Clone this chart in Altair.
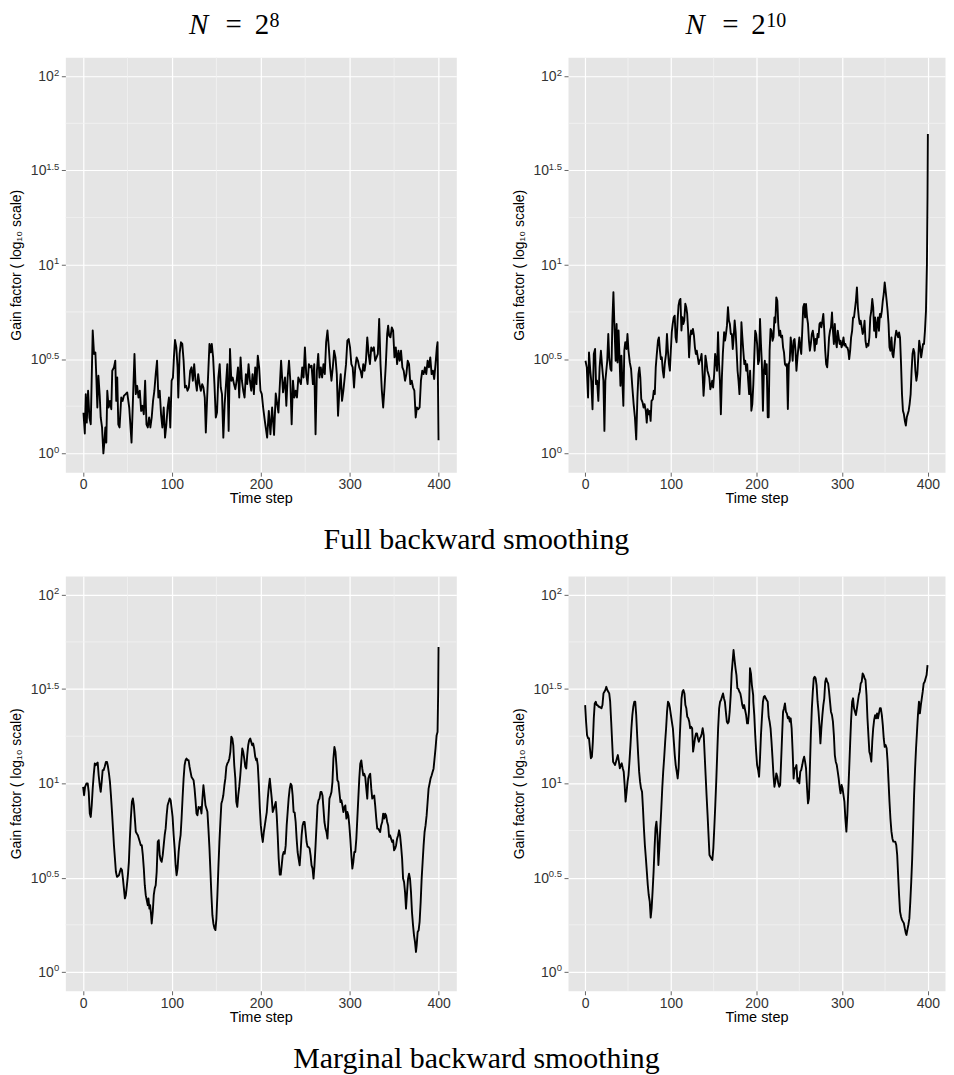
import altair as alt
import pandas as pd

# ---------------- data (log10 of gain factor vs time step) ----------------
tl_pts = [
    (0.4, .216), (1.9, .105), (3.0, .314), (4.1, .163), (5.6, .332), (7.1, .19), (8.6, .154), (10.8, .651),
    (12.3, .527), (13.8, .535), (14.9, .402), (16.0, .243), (17.2, .411), (18.7, .305), (19.8, .19), (21.3, .137),
    (22.8, 0.0), (23.9, .057), (25.0, .137), (26.1, .057), (27.2, .332), (28.7, .243), (30.2, .278), (31.7, .234),
    (32.8, .438), (34.7, .456), (36.2, .491), (37.3, .278), (38.4, .402), (39.6, .154), (41.0, .137), (42.9, .296),
    (44.4, .278), (45.9, .305), (47.8, .314), (49.6, .323), (51.9, .243), (54.5, .057), (56.3, .314), (57.8, .527),
    (59.3, .314), (60.8, .358), (62.3, .296), (63.8, .332), (65.3, .225), (66.8, .252), (68.3, .207), (69.8, .385),
    (71.3, .154), (72.8, .137), (74.3, .19), (75.7, .137), (77.2, .19), (78.7, .278), (80.2, .332), (81.7, .42),
    (83.2, .491), (84.7, .296), (86.2, .332), (87.7, .207), (89.2, .137), (90.7, .243), (92.2, .083), (93.7, .154),
    (95.1, .243), (96.6, .296), (98.1, .137), (99.6, .385), (101.1, .402), (102.2, .509), (103.4, .601), (104.9, .562),
    (106.3, .456), (107.1, .296), (108.6, .527), (110.1, .589), (111.6, .58), (113.1, .491), (114.6, .349), (116.0, .358),
    (117.5, .332), (119.0, .349), (120.5, .438), (122.0, .456), (123.5, .385), (125.0, .473), (126.5, .385), (128.0, .332),
    (129.5, .42), (131.0, .367), (132.5, .332), (134.0, .367), (135.4, .349), (136.9, .296), (138.1, .11), (139.6, .296),
    (141.0, .447), (142.2, .58), (143.7, .535), (144.8, .58), (146.3, .509), (147.8, .367), (149.3, .19), (150.7, .216),
    (152.2, .402), (153.7, .473), (154.9, .349), (156.3, .314), (157.8, .083), (159.3, .261), (160.8, .367), (162.3, .473),
    (163.8, .119), (165.3, .553), (166.8, .385), (168.3, .402), (169.8, .367), (171.3, .34), (172.8, .385), (174.3, .456),
    (175.7, .296), (177.2, .509), (178.7, .385), (180.2, .332), (181.7, .296), (183.2, .42), (184.7, .367), (186.2, .473),
    (187.7, .385), (189.2, .332), (190.7, .42), (192.2, .314), (193.7, .456), (195.1, .367), (196.6, .518), (198.1, .456),
    (199.6, .332), (201.1, .314), (202.6, .243), (204.5, .172), (207.1, .083), (209.0, .225), (210.8, .101), (212.7, .243),
    (214.9, .098), (216.8, .317), (219.8, .216), (222.8, .491), (225.0, .323), (227.2, .402), (228.7, .252), (230.2, .402),
    (231.7, .491), (233.2, .385), (234.7, .154), (236.2, .385), (237.7, .296), (239.2, .332), (240.7, .296), (242.2, .402),
    (243.7, .385), (245.1, .367), (246.6, .456), (248.1, .402), (249.6, .562), (251.1, .42), (252.6, .367), (254.1, .473),
    (255.6, .456), (257.1, .465), (258.6, .367), (260.1, .473), (261.6, .101), (263.1, .438), (264.6, .527), (266.0, .402),
    (267.5, .456), (269.0, .402), (270.5, .473), (272.0, .42), (273.5, .589), (275.0, .651), (276.5, .562), (278.0, .456),
    (279.5, .385), (281.0, .456), (282.5, .544), (284.0, .509), (285.5, .42), (286.9, .199), (288.4, .332), (289.9, .42),
    (291.4, .278), (292.9, .332), (294.4, .402), (295.9, .473), (297.4, .598), (298.9, .606), (300.4, .562), (301.9, .473),
    (303.4, .456), (304.9, .349), (306.3, .456), (307.8, .509), (309.3, .491), (310.8, .456), (312.3, .438), (313.8, .402),
    (315.3, .473), (316.8, .438), (318.3, .491), (319.8, .615), (321.3, .527), (322.8, .473), (324.3, .562), (325.7, .544),
    (327.2, .562), (328.7, .491), (330.2, .509), (331.7, .527), (333.2, .713), (334.7, .473), (336.2, .332), (337.7, .243),
    (339.2, .349), (340.7, .473), (342.2, .633), (343.3, .677), (344.4, .624), (345.9, .615), (347.4, .668), (348.9, .651),
    (350.4, .509), (351.9, .562), (353.4, .473), (354.9, .544), (356.3, .491), (357.8, .544), (359.3, .456), (360.8, .438),
    (362.3, .385), (363.8, .42), (365.3, .491), (366.8, .473), (368.3, .367), (369.8, .385), (371.3, .349), (372.8, .332),
    (374.3, .19), (375.7, .243), (377.2, .234), (378.7, .243), (380.2, .385), (381.7, .438), (383.2, .42), (384.7, .456),
    (386.2, .42), (387.7, .491), (389.2, .456), (390.7, .509), (392.2, .42), (393.7, .438), (395.1, .394), (396.6, .473),
    (398.1, .562), (398.9, .589), (400.0, .069),
]

tr_pts = [
    (0.4, .491), (1.9, .456), (3.4, .296), (4.5, .535), (6.0, .438), (7.1, .385), (8.6, .234), (10.1, .527),
    (11.6, .553), (12.7, .367), (13.9, .385), (15.4, .278), (16.9, .456), (18.4, .544), (19.9, .456), (21.3, .385),
    (22.5, .119), (23.6, .385), (24.7, .438), (25.8, .491), (27.0, .633), (28.1, .509), (29.6, .447), (30.7, .438),
    (31.8, .704), (33.0, .855), (34.1, .686), (35.6, .491), (36.7, .686), (37.8, .482), (39.0, .651), (40.1, .509),
    (41.2, .358), (42.3, .518), (43.4, .385), (44.6, .252), (45.7, .544), (46.8, .589), (48.3, .553), (49.4, .633),
    (50.6, .544), (52.1, .482), (53.6, .447), (55.1, .349), (56.6, .261), (58.1, .19), (59.6, .074), (61.0, .296),
    (62.2, .42), (63.3, .456), (64.4, .402), (65.5, .287), (67.0, .27), (68.2, .243), (69.3, .261), (70.8, .225),
    (71.9, .163), (73.0, .234), (74.2, .207), (75.3, .225), (76.4, .172), (77.5, .278), (79.0, .287), (80.1, .332),
    (81.3, .314), (82.4, .456), (83.5, .518), (85.0, .598), (86.1, .615), (87.3, .544), (88.4, .5), (89.5, .509),
    (90.6, .438), (91.8, .402), (92.9, .473), (94.4, .527), (95.5, .633), (96.6, .544), (97.8, .473), (98.9, .438),
    (100.0, .544), (101.1, .642), (102.2, .686), (103.4, .722), (104.5, .73), (105.6, .615), (106.7, .589), (107.9, .704),
    (109.0, .784), (110.1, .81), (111.2, .819), (112.4, .651), (113.5, .722), (114.6, .686), (115.7, .704), (116.9, .793),
    (118.0, .775), (119.1, .739), (120.2, .651), (121.3, .509), (122.5, .615), (123.6, .651), (124.7, .633), (125.8, .66),
    (127.0, .624), (128.1, .562), (129.2, .527), (130.3, .544), (131.5, .509), (132.6, .473), (133.7, .491), (134.8, .5),
    (135.9, .527), (137.1, .42), (138.2, .305), (139.3, .385), (140.4, .518), (141.6, .482), (142.7, .438), (143.8, .42),
    (144.9, .402), (146.1, .34), (147.2, .358), (148.3, .385), (149.4, .349), (150.6, .42), (151.7, .527), (152.8, .491),
    (153.9, .438), (155.1, .642), (156.2, .482), (157.3, .385), (158.4, .207), (159.6, .402), (160.7, .527), (162.2, .642),
    (163.3, .598), (164.4, .633), (165.5, .677), (166.7, .775), (167.8, .704), (168.9, .686), (170.0, .633), (171.2, .633),
    (172.3, .553), (173.4, .615), (174.5, .704), (175.7, .642), (176.8, .544), (177.9, .438), (179.0, .385), (180.1, .314),
    (181.3, .438), (182.4, .695), (183.5, .615), (184.6, .544), (185.8, .473), (186.9, .491), (188.0, .438), (189.1, .473),
    (190.3, .385), (191.4, .314), (192.5, .438), (193.6, .296), (194.0, .226), (195.1, .261), (196.3, .367), (197.4, .509),
    (198.5, .65), (199.6, .633), (200.7, .58), (201.9, .473), (203.0, .491), (204.1, .712), (205.2, .58), (206.3, .473),
    (207.5, .226), (208.6, .438), (209.7, .491), (210.8, .42), (211.9, .473), (213.1, .191), (214.2, .191), (215.3, .544),
    (216.4, .659), (217.5, .65), (218.7, .597), (219.8, .615), (220.9, .721), (222.0, .694), (223.1, .827), (224.3, .809),
    (225.4, .686), (226.5, .624), (227.6, .65), (228.7, .615), (229.9, .624), (231.0, .562), (232.1, .535), (233.2, .473),
    (234.3, .465), (235.4, .473), (236.6, .235), (237.7, .473), (238.8, .491), (239.9, .615), (241.0, .562), (242.2, .491),
    (243.3, .597), (244.4, .606), (245.5, .544), (246.6, .438), (247.8, .509), (248.9, .562), (250.0, .615), (251.1, .562),
    (252.2, .527), (253.4, .65), (254.5, .774), (255.6, .792), (256.7, .721), (257.8, .792), (259.0, .721), (260.1, .686),
    (261.2, .597), (262.3, .544), (263.4, .58), (264.6, .633), (265.7, .65), (266.8, .615), (267.9, .544), (269.0, .606),
    (270.1, .58), (271.3, .633), (272.4, .615), (273.5, .686), (274.6, .694), (275.7, .668), (276.9, .703), (278.0, .739),
    (279.1, .65), (280.2, .544), (281.3, .473), (282.5, .456), (283.6, .527), (284.7, .615), (285.8, .65), (286.9, .668),
    (288.1, .747), (289.2, .65), (290.3, .58), (291.4, .686), (292.5, .597), (293.7, .562), (294.8, .65), (295.9, .615),
    (297.0, .58), (298.1, .597), (299.3, .562), (300.4, .58), (301.5, .615), (302.6, .571), (303.7, .58), (304.9, .562),
    (306.0, .562), (307.1, .544), (308.2, .5), (309.3, .544), (310.4, .615), (311.6, .65), (312.7, .721), (313.8, .721),
    (314.9, .765), (316.0, .809), (317.2, .88), (318.3, .774), (319.4, .721), (320.5, .686), (321.6, .703), (322.8, .668),
    (323.9, .633), (325.0, .65), (326.1, .703), (327.2, .597), (328.4, .562), (329.5, .58), (330.6, .571), (331.7, .615),
    (332.8, .721), (334.0, .756), (335.1, .818), (336.2, .774), (337.3, .65), (338.4, .721), (339.6, .615), (340.7, .686),
    (341.8, .721), (342.9, .65), (344.0, .739), (345.1, .721), (346.3, .756), (347.4, .809), (348.5, .845), (349.6, .906),
    (350.7, .862), (351.9, .809), (353.0, .756), (354.1, .686), (355.2, .562), (356.3, .544), (357.5, .615), (358.6, .527),
    (359.7, .509), (360.8, .562), (361.9, .615), (363.1, .65), (364.2, .633), (365.3, .615), (366.4, .641), (367.5, .615),
    (368.7, .473), (369.8, .314), (370.9, .226), (372.0, .208), (373.1, .173), (374.3, .147), (375.4, .191), (376.5, .208),
    (377.6, .226), (378.7, .261), (379.9, .314), (381.0, .438), (382.1, .527), (383.2, .553), (384.3, .535), (385.4, .438),
    (386.6, .385), (387.7, .42), (388.8, .509), (389.9, .597), (391.0, .562), (392.2, .509), (393.3, .544), (394.4, .58),
    (395.5, .58), (396.6, .65), (397.8, .756), (398.9, 1.004), (399.6, 1.357), (400.0, 1.693),
]

bl_pts = [
    (0.0, .981), (1.1, .937), (2.2, .981), (3.7, .999), (5.2, .999), (6.3, .955), (7.5, .84), (8.6, .822),
    (9.7, .884), (10.8, .973), (11.9, 1.043), (13.1, 1.105), (14.2, 1.096), (15.3, 1.105), (16.4, 1.11), (17.5, 1.043),
    (18.7, .99), (19.8, .955), (20.9, 1.008), (22.0, 1.07), (23.1, 1.07), (24.3, 1.088), (25.7, 1.114), (26.9, 1.114),
    (28.0, 1.088), (29.1, 1.052), (30.2, 1.008), (31.3, .937), (32.5, .849), (33.6, .761), (34.7, .672), (35.8, .602),
    (36.9, .531), (38.1, .504), (39.2, .508), (40.3, .513), (41.4, .531), (42.5, .549), (43.7, .54), (44.8, .495),
    (45.9, .443), (47.0, .39), (48.1, .407), (49.3, .46), (50.4, .513), (51.5, .584), (52.6, .708), (53.7, .814),
    (54.9, .902), (56.0, .92), (57.1, .884), (58.2, .814), (59.3, .743), (60.4, .734), (61.6, .725), (62.7, .708),
    (63.8, .69), (64.9, .672), (66.0, .672), (67.2, .619), (68.3, .549), (69.4, .46), (70.5, .407), (71.6, .381),
    (72.8, .354), (73.5, .39), (74.6, .336), (75.4, .354), (76.5, .301), (77.2, .257), (78.4, .319), (79.5, .407),
    (80.6, .443), (81.7, .46), (82.8, .531), (84.0, .69), (85.1, .699), (86.2, .619), (87.3, .593), (88.4, .584),
    (89.6, .619), (90.7, .672), (91.8, .725), (92.9, .761), (94.0, .831), (95.1, .884), (96.3, .902), (97.4, .92),
    (98.5, .911), (99.6, .867), (100.7, .822), (101.9, .725), (103.0, .655), (104.1, .566), (105.2, .513), (106.3, .549),
    (107.5, .637), (108.6, .69), (109.7, .725), (110.8, .814), (111.9, .92), (113.1, 1.026), (114.2, 1.096), (115.3, 1.123),
    (116.4, 1.132), (117.5, 1.123), (118.7, 1.123), (119.8, 1.088), (120.9, 1.061), (122.0, 1.034), (123.1, 1.026), (124.3, 1.017),
    (125.4, .973), (126.5, .911), (127.6, .84), (128.7, .831), (129.9, .875), (131.0, .867), (132.1, .875), (133.2, .84),
    (134.3, .92), (135.4, .99), (136.6, .937), (137.7, .884), (138.8, .867), (139.9, .849), (141.0, .761), (142.2, .655),
    (143.3, .531), (144.4, .407), (145.5, .301), (146.6, .257), (147.8, .231), (148.9, .222), (150.0, .283), (151.1, .407),
    (152.2, .549), (153.4, .69), (154.5, .796), (155.6, .893), (156.7, .911), (157.8, .937), (159.0, .99), (160.1, 1.026),
    (161.2, 1.088), (162.3, 1.105), (163.4, 1.114), (164.6, 1.132), (165.7, 1.167), (166.8, 1.247), (167.9, 1.238), (169.0, 1.202),
    (170.1, 1.096), (171.3, 1.026), (172.4, .902), (173.5, .875), (174.6, .937), (175.7, .981), (176.9, 1.043), (178.0, 1.114),
    (179.1, 1.185), (180.2, 1.167), (181.3, 1.132), (182.5, 1.088), (183.6, 1.079), (184.7, 1.15), (185.8, 1.202), (186.9, 1.229),
    (188.1, 1.238), (189.2, 1.22), (190.3, 1.202), (191.4, 1.211), (192.5, 1.185), (193.7, 1.141), (194.8, 1.123), (195.5, 1.131),
    (196.6, 1.095), (197.8, .989), (198.9, .866), (200.0, .777), (201.1, .724), (202.2, .689), (203.4, .742), (204.5, .777),
    (205.6, .813), (206.7, .848), (207.8, .919), (209.0, .981), (210.1, 1.025), (211.2, .972), (212.3, .919), (213.4, .848),
    (214.6, .866), (215.7, .883), (216.8, .901), (217.9, .83), (219.0, .724), (220.1, .601), (221.3, .516), (222.4, .516),
    (223.5, .565), (224.6, .618), (225.7, .636), (226.9, .627), (228.0, .671), (229.1, .777), (230.2, .848), (231.3, .919),
    (232.5, .972), (233.6, .998), (234.7, .989), (235.8, .936), (236.9, .848), (238.1, .845), (239.2, .795), (240.3, .707),
    (241.4, .636), (242.5, .601), (243.7, .565), (244.8, .636), (245.9, .724), (247.0, .777), (248.1, .795), (249.3, .795),
    (250.4, .742), (251.5, .689), (252.6, .663), (253.7, .663), (254.9, .654), (256.0, .618), (257.1, .565), (258.2, .548),
    (259.3, .495), (260.4, .565), (261.6, .671), (262.7, .777), (263.8, .883), (264.9, .91), (266.0, .919), (267.2, .954),
    (268.3, .954), (269.4, .936), (270.5, .866), (271.6, .795), (272.8, .76), (273.9, .742), (275.0, .707), (276.1, .813),
    (277.2, .919), (278.4, .936), (279.5, .954), (280.6, 1.007), (281.7, 1.131), (282.8, 1.193), (284.0, 1.166), (285.1, 1.095),
    (286.2, 1.016), (287.3, 1.007), (288.4, .954), (289.6, .901), (290.7, .91), (291.8, .883), (292.9, .848), (294.0, .874),
    (295.1, .883), (296.3, .813), (297.4, .848), (298.5, .83), (299.6, .777), (300.7, .707), (301.9, .618), (303.0, .548),
    (304.1, .583), (305.2, .636), (306.3, .636), (307.5, .707), (308.6, .813), (309.7, .919), (310.8, 1.025), (311.9, 1.104),
    (313.1, 1.122), (314.2, 1.078), (315.3, 1.042), (316.4, 1.051), (317.5, 1.034), (318.7, .972), (319.8, .919), (320.9, 1.025),
    (322.0, 1.042), (323.1, 1.051), (324.3, .972), (325.4, .919), (326.5, .928), (327.6, .936), (328.7, .883), (329.9, .813),
    (331.0, .76), (332.1, .76), (333.2, .751), (334.3, .742), (335.4, .777), (336.6, .795), (337.7, .839), (338.8, .813),
    (339.9, .839), (341.0, .83), (342.2, .795), (343.3, .777), (344.4, .716), (345.5, .724), (346.6, .707), (347.8, .689),
    (348.9, .698), (350.0, .645), (351.1, .654), (352.2, .671), (353.4, .707), (354.5, .724), (355.6, .751), (356.7, .724),
    (357.8, .671), (359.0, .601), (360.1, .495), (361.2, .477), (362.3, .424), (363.4, .336), (364.6, .424), (365.7, .495),
    (366.8, .521), (367.9, .495), (369.0, .424), (370.1, .318), (371.3, .247), (372.4, .194), (373.5, .159), (374.6, .106),
    (375.4, .141), (376.5, .212), (377.6, .221), (378.7, .265), (379.9, .371), (381.0, .495), (382.1, .583), (383.2, .671),
    (384.3, .742), (385.4, .777), (386.6, .83), (387.7, .901), (388.8, .972), (389.9, .998), (391.0, 1.025), (392.2, 1.042),
    (393.3, 1.06), (394.4, 1.078), (395.5, 1.131), (396.6, 1.184), (397.8, 1.254), (398.9, 1.272), (399.6, 1.484), (400.0, 1.723),
]

br_pts = [
    (0.0, 1.415), (1.1, 1.327), (2.2, 1.256), (3.4, 1.239), (4.5, 1.239), (5.6, 1.186), (6.7, 1.133), (7.9, 1.141),
    (9.0, 1.221), (10.1, 1.345), (11.2, 1.424), (12.4, 1.433), (13.5, 1.415), (14.6, 1.415), (15.7, 1.406), (16.9, 1.406),
    (18.0, 1.401), (19.1, 1.398), (20.2, 1.415), (21.4, 1.477), (22.5, 1.486), (23.6, 1.495), (24.7, 1.512), (25.9, 1.495),
    (27.0, 1.486), (28.1, 1.477), (29.2, 1.433), (30.4, 1.327), (31.5, 1.221), (32.6, 1.115), (33.7, 1.106), (34.9, 1.097),
    (36.0, 1.115), (37.1, 1.133), (38.2, 1.15), (39.4, 1.115), (40.5, 1.08), (41.6, 1.097), (42.7, 1.106), (43.9, 1.08),
    (45.0, 1.062), (46.1, .991), (47.2, .903), (48.4, .956), (49.5, 1.009), (50.6, 1.044), (51.7, 1.115), (52.9, 1.203),
    (54.0, 1.292), (55.1, 1.362), (56.2, 1.406), (57.4, 1.433), (58.5, 1.433), (59.6, 1.362), (60.7, 1.256), (61.9, 1.15),
    (63.0, 1.062), (64.1, 1.009), (65.2, .974), (66.4, .956), (67.5, .867), (68.6, .761), (69.7, .673), (70.9, .602),
    (72.0, .532), (73.1, .461), (74.2, .408), (75.4, .373), (76.5, .288), (77.6, .337), (78.7, .426), (79.9, .532),
    (81.0, .655), (82.1, .761), (83.2, .797), (84.4, .726), (85.5, .567), (86.6, .655), (87.7, .761), (88.9, .867),
    (90.0, .974), (91.1, 1.062), (92.2, 1.133), (93.4, 1.221), (94.5, 1.292), (95.6, 1.38), (96.7, 1.433), (97.9, 1.424),
    (99.0, 1.398), (100.1, 1.362), (101.2, 1.327), (102.4, 1.292), (103.5, 1.221), (104.6, 1.15), (105.7, 1.097), (106.9, 1.062),
    (108.0, 1.026), (109.1, 1.08), (110.2, 1.221), (111.4, 1.345), (112.5, 1.451), (113.6, 1.486), (114.7, 1.495), (115.9, 1.477),
    (117.0, 1.415), (118.1, 1.398), (119.2, 1.353), (120.4, 1.345), (121.5, 1.327), (122.6, 1.292), (123.7, 1.3), (124.9, 1.292),
    (126.0, 1.168), (127.1, 1.203), (128.2, 1.239), (129.4, 1.265), (130.5, 1.265), (131.6, 1.239), (132.7, 1.221), (133.9, 1.239),
    (135.0, 1.247), (136.1, 1.265), (137.2, 1.292), (138.4, 1.256), (139.5, 1.15), (140.6, 1.044), (141.7, .938), (142.9, .832),
    (144.0, .726), (145.1, .62), (146.2, .611), (147.4, .602), (148.5, .594), (149.6, .655), (150.7, .761), (151.9, .885),
    (153.0, 1.009), (154.1, 1.15), (155.2, 1.292), (156.4, 1.398), (157.5, 1.433), (158.6, 1.442), (159.7, 1.459), (160.9, 1.477),
    (162.0, 1.451), (163.1, 1.433), (164.2, 1.38), (165.4, 1.327), (166.5, 1.318), (167.6, 1.327), (168.7, 1.38), (169.9, 1.468),
    (171.0, 1.583), (172.1, 1.645), (173.2, 1.707), (174.4, 1.654), (175.5, 1.61), (176.6, 1.574), (177.7, 1.504), (178.9, 1.5),
    (180.0, 1.486), (181.1, 1.477), (182.2, 1.451), (183.4, 1.415), (184.5, 1.398), (185.6, 1.415), (186.7, 1.389), (187.9, 1.362),
    (189.0, 1.318), (190.1, 1.318), (191.2, 1.38), (192.4, 1.61), (193.5, 1.583), (194.6, 1.521), (196.1, 1.468), (196.3, 1.433),
    (197.4, 1.362), (198.5, 1.256), (199.6, 1.168), (200.7, 1.097), (201.9, 1.071), (203.0, 1.035), (204.1, 1.133), (205.2, 1.256),
    (206.3, 1.345), (207.5, 1.433), (208.6, 1.459), (209.7, 1.463), (210.8, 1.451), (211.9, 1.442), (213.1, 1.433), (214.2, 1.353),
    (215.3, 1.327), (216.4, 1.292), (217.5, 1.221), (218.7, 1.133), (219.8, 1.044), (220.9, .982), (222.0, 1.009), (223.1, 1.053),
    (224.3, 1.035), (225.4, 1.0), (226.5, .982), (227.6, .991), (228.7, 1.115), (229.9, 1.256), (231.0, 1.38), (232.1, 1.398),
    (233.2, 1.424), (234.3, 1.38), (235.4, 1.371), (236.6, 1.345), (237.7, 1.353), (238.8, 1.327), (239.9, 1.345), (241.0, 1.292),
    (242.2, 1.168), (243.3, 1.026), (244.4, 1.08), (245.5, 1.08), (246.6, 1.097), (247.8, 1.009), (248.9, 1.026), (250.0, 1.0),
    (251.1, 1.062), (252.2, 1.071), (253.4, 1.097), (254.5, 1.124), (255.6, 1.141), (256.7, 1.115), (257.8, 1.08), (259.0, .974),
    (260.1, .894), (261.2, .92), (262.3, 1.08), (263.4, 1.256), (264.6, 1.398), (265.7, 1.486), (266.8, 1.557), (267.9, 1.565),
    (269.0, 1.557), (270.1, 1.521), (271.3, 1.433), (272.4, 1.38), (273.5, 1.309), (274.6, 1.212), (275.7, 1.292), (276.9, 1.362),
    (278.0, 1.415), (279.1, 1.451), (280.2, 1.539), (281.3, 1.557), (282.5, 1.539), (283.6, 1.53), (284.7, 1.486), (285.8, 1.433),
    (286.9, 1.38), (288.1, 1.362), (289.2, 1.327), (290.3, 1.256), (291.4, 1.15), (292.5, 1.115), (293.7, 1.097), (294.8, 1.062),
    (295.9, 1.026), (297.0, .982), (298.1, .947), (299.3, .991), (300.4, .974), (301.5, .938), (302.6, .903), (303.7, .814),
    (304.9, .744), (306.0, .832), (307.1, .956), (308.2, 1.08), (309.3, 1.212), (310.4, 1.336), (311.6, 1.433), (312.7, 1.451),
    (313.8, 1.398), (314.9, 1.38), (316.0, 1.362), (317.2, 1.398), (318.3, 1.433), (319.4, 1.468), (320.5, 1.486), (321.6, 1.53),
    (322.8, 1.539), (323.9, 1.583), (325.0, 1.574), (326.1, 1.557), (327.2, 1.548), (328.4, 1.468), (329.5, 1.345), (330.6, 1.256),
    (331.7, 1.168), (332.8, 1.15), (334.0, 1.115), (335.1, 1.221), (336.2, 1.292), (337.3, 1.336), (338.4, 1.362), (339.6, 1.345),
    (340.7, 1.371), (341.8, 1.345), (342.9, 1.371), (344.0, 1.398), (345.1, 1.398), (346.3, 1.362), (347.4, 1.309), (348.5, 1.238),
    (349.6, 1.194), (350.7, 1.203), (351.9, 1.186), (353.0, 1.115), (354.1, 1.009), (355.2, .903), (356.3, .814), (357.5, .744),
    (358.6, .708), (359.7, .691), (360.8, .691), (361.9, .691), (363.1, .673), (364.2, .62), (365.3, .514), (366.4, .408),
    (367.5, .32), (368.7, .293), (369.8, .276), (370.9, .267), (372.0, .258), (373.1, .231), (374.3, .205), (375.0, .196),
    (376.1, .223), (377.2, .249), (378.4, .284), (379.5, .373), (380.6, .479), (381.7, .602), (382.8, .761), (383.9, .938),
    (385.1, 1.08), (386.2, 1.186), (387.3, 1.274), (388.4, 1.362), (389.6, 1.433), (390.7, 1.371), (391.8, 1.415), (392.9, 1.451),
    (394.0, 1.486), (395.1, 1.53), (396.3, 1.539), (397.4, 1.557), (398.5, 1.574), (399.6, 1.627),
]

x_major = [0, 100, 200, 300, 400]
x_minor = [50, 150, 250, 350]
y_major = [0, 0.5, 1, 1.5, 2]
y_minor = [0.25, 0.75, 1.25, 1.75]
y_exponents = ["0", "0.5", "1", "1.5", "2"]
y_base = ["10", "10", "10", "10", "10"]
col_exponents = ["8", "10"]
row_captions = ["Full backward smoothing", "Marginal backward smoothing"]
x_title = "Time step"
y_title = "Gain factor ( log\u2081\u2080 scale)"

# ---------------- styling ----------------
W_LEFT, W_RIGHT, H = 392, 378, 416
SANS = "Liberation Sans"
SERIF = "Liberation Serif"
TXT = "#333333"
TICK = "#666666"
BG = "#E5E5E5"
MINOR = "#F2F2F2"

xs = alt.Scale(domain=[-20, 420], nice=False, zero=False)
ys = alt.Scale(domain=[-0.1, 2.1], nice=False, zero=False)

x_axis = alt.Axis(
    values=x_major, format="d", title=x_title, grid=True, gridColor="white",
    gridWidth=1.2, domain=False, tickSize=4, tickColor=TICK, tickWidth=1,
    labelFont=SANS, labelFontSize=14, labelColor=TXT, labelPadding=1.5,
    titleFont=SANS, titleFontSize=14.5, titleFontWeight="normal",
    titleColor="black", titlePadding=0)
y_axis = alt.Axis(
    values=y_major, labels=False, title=y_title, grid=True, gridColor="white",
    gridWidth=1.2, domain=False, tickSize=4, tickColor=TICK, tickWidth=1,
    titleFont=SANS, titleFontSize=14, titleFontWeight="normal", titleColor="black",
    titleX=-45, titleY=H / 2, titleAngle=270, titleAlign="center",
    titleBaseline="alphabetic")


def text_piece(s, x, y, size, italic=False, align="left"):
    return alt.Chart(pd.DataFrame({"s": [s]})).mark_text(
        align=align, baseline="top", font=SERIF, fontSize=size,
        fontStyle="italic" if italic else "normal", color="black"
    ).encode(text="s:N", x=alt.value(x), y=alt.value(y))


def col_title(exp, pos):
    nx, ex, tx, px = pos
    return [
        text_piece("N", nx, -46.4, 29, italic=True),
        text_piece("=", ex, -46.4, 29, align="center"),
        text_piece("2", tx, -46.4, 29),
        text_piece(exp, px, -46.6, 20),
    ]


def panel(pts, width, title_layers=None):
    df = pd.DataFrame({"t": [p[0] for p in pts], "v": [p[1] for p in pts]})
    line = alt.Chart(df).mark_line(
        color="black", strokeWidth=1.9, strokeJoin="round", clip=True
    ).encode(
        x=alt.X("t:Q", scale=xs, axis=x_axis),
        y=alt.Y("v:Q", scale=ys, axis=y_axis),
    )
    minor_x = alt.Chart(pd.DataFrame({"t": x_minor})).mark_rule(
        color=MINOR, strokeWidth=0.8
    ).encode(x=alt.X("t:Q", scale=xs, axis=x_axis))
    minor_y = alt.Chart(pd.DataFrame({"v": y_minor})).mark_rule(
        color=MINOR, strokeWidth=0.8
    ).encode(y=alt.Y("v:Q", scale=ys, axis=y_axis))
    ylab = pd.DataFrame({"v": y_major, "e": y_exponents, "b": y_base})
    tens_int = alt.Chart(ylab).transform_filter("length(datum.e) == 1").mark_text(
        align="right", baseline="alphabetic", dy=5, font=SANS, fontSize=14, color=TXT
    ).encode(y=alt.Y("v:Q", scale=ys, axis=y_axis), x=alt.value(-11.5), text="b:N")
    tens_frac = alt.Chart(ylab).transform_filter("length(datum.e) > 1").mark_text(
        align="right", baseline="alphabetic", dy=5, font=SANS, fontSize=14, color=TXT
    ).encode(y=alt.Y("v:Q", scale=ys, axis=y_axis), x=alt.value(-19), text="b:N")
    exps = alt.Chart(ylab).mark_text(
        align="right", baseline="alphabetic", dy=-0.5, font=SANS, fontSize=9.5, color=TXT
    ).encode(y=alt.Y("v:Q", scale=ys, axis=y_axis), x=alt.value(-6), text="e:N")
    layers = [minor_x, minor_y, line, tens_int, tens_frac, exps]
    if title_layers:
        layers += title_layers
    return alt.layer(*layers).properties(width=width, height=H)


tl = panel(tl_pts, W_LEFT, col_title(col_exponents[0], (124, 168.8, 190, 204.7)))
tr = panel(tr_pts, W_RIGHT, col_title(col_exponents[1], (117.7, 162.8, 183.7, 198.7)))
bl = panel(bl_pts, W_LEFT)
br = panel(br_pts, W_RIGHT)


def caption(txt):
    return alt.TitleParams(txt, orient="bottom", anchor="middle", font=SERIF, fontSize=30,
                           fontWeight="normal", color="black", offset=20, dx=-1)


row1 = alt.hconcat(tl, tr, spacing=54).properties(title=caption(row_captions[0]))
row2 = alt.hconcat(bl, br, spacing=54).properties(title=caption(row_captions[1]))

chart = alt.vconcat(row1, row2, spacing=19).properties(
    padding={"left": 0.5, "top": 0, "right": 0, "bottom": 0}
).configure_view(fill=BG, stroke="transparent")

chart.save("out.html", embed_options={"renderer": "svg", "actions": False})
